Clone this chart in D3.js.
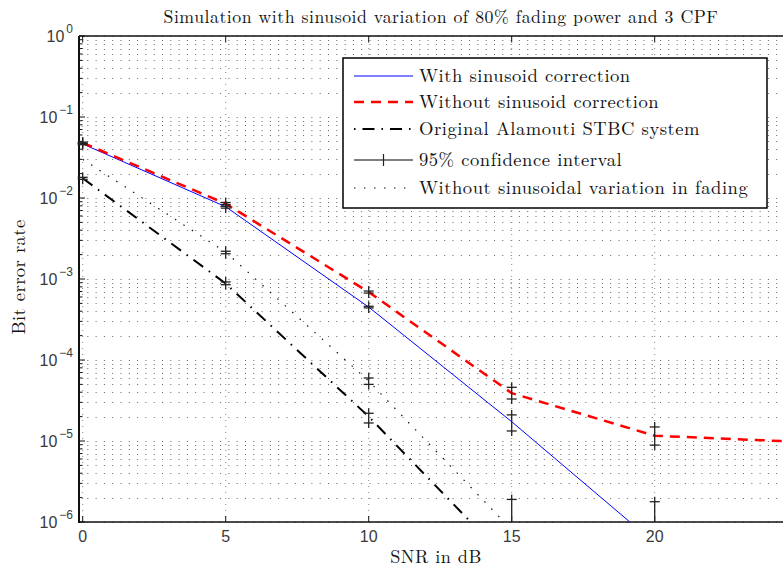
<!DOCTYPE html>
<html>
<head>
<meta charset="utf-8">
<script src="https://cdn.jsdelivr.net/npm/d3@7"></script>
<style>
  body { margin: 0; background: #fff; }
  svg { display: block; }
  .serif { font-family: "Latin Modern Roman", "CMU Serif", "Liberation Serif", serif; fill: #111; }
  .tick-label { font-family: "Liberation Sans", Arial, sans-serif; fill: #3a3a3a; }
</style>
</head>
<body>
<div id="chart"></div>
<script>
// SNR points (dB)
const snr = [0, 5, 10, 15, 20, 25];

// bit error rates
const berCorrected = [0.0465, 0.0078, 4.5e-4, 1.73e-5, 5.5e-7, 2e-8];
const berUncorrected = [0.048, 0.0085, 6.9e-4, 3.9e-5, 1.16e-5, 9.8e-6];
const berAlamouti = [0.0175, 8.8e-4, 2.0e-5, 3e-7, 5e-9, 1e-10];
const berNoVariation = [0.030, 2.15e-3, 5.5e-5, 8e-7, 1e-8, 1e-10];

// 95% confidence intervals [lower, upper], null where none drawn
const ciCorrected = [[0.0455, 0.0475], [0.0075, 0.0079], [4.4e-4, 4.6e-4], [1.33e-5, 2.1e-5], [1e-7, 1.78e-6], null];
const ciUncorrected = [[0.047, 0.049], [0.0083, 0.0088], [6.7e-4, 7.1e-4], [3.3e-5, 4.6e-5], [8.9e-6, 1.49e-5], null];
const ciAlamouti = [[0.017, 0.018], [8.5e-4, 9.2e-4], [1.67e-5, 2.2e-5], null, null, null];
const ciNoVariation = [null, [2.05e-3, 2.2e-3], [5.0e-5, 6.0e-5], [1e-7, 1.9e-6], null, null];

const xTicks = [0, 5, 10, 15, 20];
const yDecades = [-6, -5, -4, -3, -2, -1, 0];

const legendLabels = [
  "With sinusoid correction",
  "Without sinusoid correction",
  "Original Alamouti STBC system",
  "95% confidence interval",
  "Without sinusoidal variation in fading",
];

const WIDTH = 783;
const HEIGHT = 567;
const PLOT = { LEFT: 79, TOP: 36, RIGHT: 800, BOTTOM: 522 };

const STYLES = {
  corrected: { color: "#0000ff", width: 1, dash: null },
  uncorrected: { color: "#ff0000", width: 2.5, dash: "10,7" },
  alamouti: { color: "#000", width: 2, dash: "12,7,1.5,7" },
  noVariation: { color: "#111", width: 1.2, dash: "1.5,8.5" },
};

const series = [
  { values: berCorrected, ci: ciCorrected, ...STYLES.corrected },
  { values: berUncorrected, ci: ciUncorrected, ...STYLES.uncorrected },
  { values: berAlamouti, ci: ciAlamouti, ...STYLES.alamouti },
  { values: berNoVariation, ci: ciNoVariation, ...STYLES.noVariation },
];

const x = d3.scaleLinear().domain([0, 25]).range([PLOT.LEFT + 3.7, PLOT.LEFT + 3.7 + 25 * 28.6]);
const y = d3.scaleLog().domain([1e-6, 1]).range([PLOT.BOTTOM, PLOT.TOP]);

const svg = d3.select("#chart").append("svg")
  .attr("width", WIDTH)
  .attr("height", HEIGHT);

const defs = svg.append("defs");
defs.append("clipPath").attr("id", "plot-clip")
  .append("rect")
  .attr("x", PLOT.LEFT).attr("y", PLOT.TOP)
  .attr("width", PLOT.RIGHT - PLOT.LEFT).attr("height", PLOT.BOTTOM - PLOT.TOP);
defs.append("clipPath").attr("id", "bar-clip")
  .append("rect")
  .attr("x", PLOT.LEFT - 8).attr("y", PLOT.TOP)
  .attr("width", PLOT.RIGHT - PLOT.LEFT + 8).attr("height", PLOT.BOTTOM - PLOT.TOP);

// log ticks: every 1..9 x 10^k
const yAllTicks = yDecades.flatMap((k) =>
  k === 0 ? [1] : d3.range(1, 10).map((m) => m * Math.pow(10, k))
);

// grid
const grid = svg.append("g").attr("stroke-width", 1);
grid.selectAll("line.h")
  .data(yAllTicks)
  .join("line")
  .attr("class", "h")
  .attr("x1", PLOT.LEFT).attr("x2", PLOT.RIGHT)
  .attr("y1", (d) => Math.round(y(d)) + 0.5).attr("y2", (d) => Math.round(y(d)) + 0.5)
  .attr("stroke", "#666")
  .attr("stroke-dasharray", "1,7.3");
grid.selectAll("line.v")
  .data(xTicks.concat([25]))
  .join("line")
  .attr("class", "v")
  .attr("x1", (d) => x(d)).attr("x2", (d) => x(d))
  .attr("y1", PLOT.TOP).attr("y2", PLOT.BOTTOM)
  .attr("stroke", "#888")
  .attr("stroke-dasharray", "1,5");

// axes frame and ticks
const frame = svg.append("g").attr("stroke", "#111");
frame.append("line")
  .attr("x1", PLOT.LEFT).attr("x2", PLOT.LEFT)
  .attr("y1", PLOT.TOP).attr("y2", PLOT.BOTTOM + 1)
  .attr("stroke-width", 2);
frame.append("line")
  .attr("x1", PLOT.LEFT).attr("x2", PLOT.RIGHT)
  .attr("y1", PLOT.BOTTOM).attr("y2", PLOT.BOTTOM)
  .attr("stroke-width", 1.6);
frame.append("line")
  .attr("x1", PLOT.LEFT).attr("x2", PLOT.RIGHT)
  .attr("y1", PLOT.TOP).attr("y2", PLOT.TOP)
  .attr("stroke-width", 1.6);

frame.selectAll("line.ytick")
  .data(yAllTicks)
  .join("line")
  .attr("class", "ytick")
  .attr("x1", PLOT.LEFT)
  .attr("x2", (d) => PLOT.LEFT + (Number.isInteger(Math.log10(d)) ? 6 : 3.5))
  .attr("y1", (d) => y(d)).attr("y2", (d) => y(d))
  .attr("stroke-width", 1);

frame.selectAll("line.xtick-b")
  .data(xTicks)
  .join("line")
  .attr("class", "xtick-b")
  .attr("x1", (d) => x(d)).attr("x2", (d) => x(d))
  .attr("y1", PLOT.BOTTOM).attr("y2", PLOT.BOTTOM - 6)
  .attr("stroke-width", 1);
frame.selectAll("line.xtick-t")
  .data(xTicks)
  .join("line")
  .attr("class", "xtick-t")
  .attr("x1", (d) => x(d)).attr("x2", (d) => x(d))
  .attr("y1", PLOT.TOP).attr("y2", PLOT.TOP + 6)
  .attr("stroke-width", 1);

// tick labels
svg.append("g").selectAll("text")
  .data(xTicks)
  .join("text")
  .attr("class", "tick-label")
  .attr("x", (d) => x(d))
  .attr("y", PLOT.BOTTOM + 20)
  .attr("text-anchor", "middle")
  .style("font-size", "16px")
  .text((d) => d);

const yLabels = svg.append("g").selectAll("text")
  .data(yDecades)
  .join("text")
  .attr("class", "tick-label")
  .attr("x", PLOT.LEFT - 6)
  .attr("y", (d) => y(Math.pow(10, d)) + 6)
  .attr("text-anchor", "end")
  .style("font-size", "16px");
yLabels.append("tspan").text("10");
yLabels.append("tspan")
  .attr("dy", -9)
  .attr("dx", 2)
  .style("font-size", "12px")
  .text((d) => (d < 0 ? "\u2212" + -d : d));

// data lines
const line = d3.line()
  .x((d, i) => x(snr[i]))
  .y((d) => y(d));

const plotArea = svg.append("g").attr("clip-path", "url(#plot-clip)");
series.forEach(({ values, color, width, dash }) => {
  plotArea.append("path")
    .datum(values)
    .attr("d", line)
    .attr("fill", "none")
    .attr("stroke", color)
    .attr("stroke-width", width)
    .attr("stroke-dasharray", dash);
});

// confidence interval bars
const bars = svg.append("g")
  .attr("clip-path", "url(#bar-clip)")
  .attr("stroke", "#222")
  .attr("stroke-width", 1.3);
const ciPoints = series.flatMap(({ ci }) =>
  ci.map((bounds, i) => (bounds ? { snr: snr[i], lo: bounds[0], hi: bounds[1] } : null))
    .filter((d) => d)
);
bars.selectAll("line.stem")
  .data(ciPoints)
  .join("line")
  .attr("class", "stem")
  .attr("x1", (d) => x(d.snr)).attr("x2", (d) => x(d.snr))
  .attr("y1", (d) => y(d.lo) + 5).attr("y2", (d) => y(d.hi) - 5);
bars.selectAll("line.cap-lo")
  .data(ciPoints)
  .join("line")
  .attr("class", "cap-lo")
  .attr("x1", (d) => x(d.snr) - 5).attr("x2", (d) => x(d.snr) + 5)
  .attr("y1", (d) => y(d.lo)).attr("y2", (d) => y(d.lo));
bars.selectAll("line.cap-hi")
  .data(ciPoints)
  .join("line")
  .attr("class", "cap-hi")
  .attr("x1", (d) => x(d.snr) - 5).attr("x2", (d) => x(d.snr) + 5)
  .attr("y1", (d) => y(d.hi)).attr("y2", (d) => y(d.hi));

// legend
const LEGEND = { X: 343, Y: 58, W: 424, H: 150 };
const legendRows = [76, 102, 129, 160, 188];
const legend = svg.append("g");
legend.append("rect")
  .attr("x", LEGEND.X).attr("y", LEGEND.Y)
  .attr("width", LEGEND.W).attr("height", LEGEND.H)
  .attr("fill", "#fff")
  .attr("stroke", "#000")
  .attr("stroke-width", 1.5);

const legendStyles = [
  STYLES.corrected,
  STYLES.uncorrected,
  { ...STYLES.alamouti, dash: "1.5,7,12,7" },
  { color: "#000", width: 1, dash: null },
  STYLES.noVariation,
];
legendLabels.forEach((label, i) => {
  const rowY = legendRows[i];
  const { color, width, dash } = legendStyles[i];
  legend.append("line")
    .attr("x1", 354).attr("x2", 413)
    .attr("y1", rowY).attr("y2", rowY)
    .attr("stroke", color)
    .attr("stroke-width", width)
    .attr("stroke-dasharray", dash);
  if (i === 3) {
    legend.append("line")
      .attr("x1", 383.5).attr("x2", 383.5)
      .attr("y1", rowY - 6).attr("y2", rowY + 6)
      .attr("stroke", "#222")
      .attr("stroke-width", 1.2);
  }
  legend.append("text")
    .attr("class", "serif")
    .attr("x", 419)
    .attr("y", rowY + 6)
    .style("font-size", "18.6px")
    .style("letter-spacing", "0.5px")
    .text(label);
});

// titles
svg.append("text")
  .attr("class", "serif")
  .attr("x", 441)
  .attr("y", 23)
  .attr("text-anchor", "middle")
  .style("font-size", "17.8px")
  .style("letter-spacing", "0.5px")
  .text("Simulation with sinusoid variation of 80% fading power and 3 CPF");

svg.append("text")
  .attr("class", "serif")
  .attr("x", 436)
  .attr("y", 563)
  .attr("text-anchor", "middle")
  .style("font-size", "18.2px")
  .style("letter-spacing", "0.45px")
  .text("SNR in dB");

svg.append("text")
  .attr("class", "serif")
  .attr("transform", `translate(25, ${(PLOT.TOP + PLOT.BOTTOM) / 2 - 2}) rotate(-90)`)
  .attr("text-anchor", "middle")
  .style("font-size", "18.5px")
  .style("letter-spacing", "0.45px")
  .text("Bit error rate");
</script>
</body>
</html>
